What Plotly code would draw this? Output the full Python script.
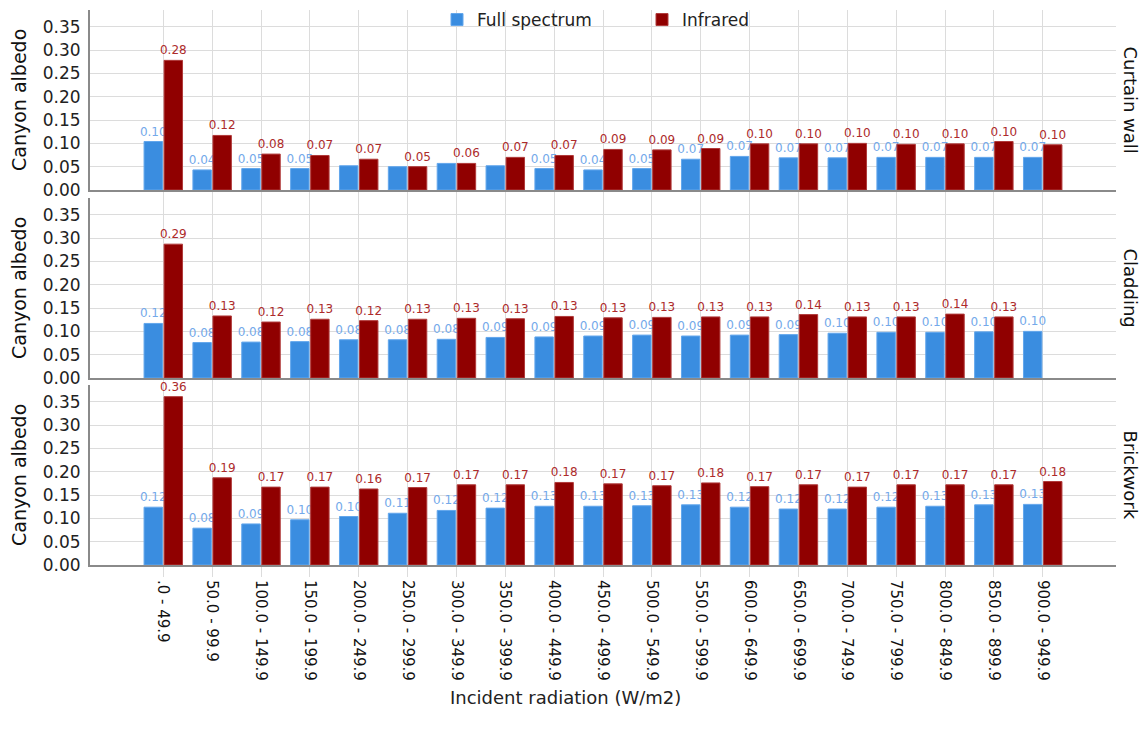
import plotly.graph_objects as go

# Incident radiation bins (W/m2)
categories = [".0 - 49.9", "50.0 - 99.9", "100.0 - 149.9", "150.0 - 199.9",
              "200.0 - 249.9", "250.0 - 299.9", "300.0 - 349.9", "350.0 - 399.9",
              "400.0 - 449.9", "450.0 - 499.9", "500.0 - 549.9", "550.0 - 599.9",
              "600.0 - 649.9", "650.0 - 699.9", "700.0 - 749.9", "750.0 - 799.9",
              "800.0 - 849.9", "850.0 - 899.9", "900.0 - 949.9"]

facades = ["Curtain wall", "Cladding", "Brickwork"]

# Canyon albedo, full spectrum
curtain_full = [0.104, 0.043, 0.046, 0.046, 0.052, 0.050, 0.057, 0.052, 0.046, 0.043,
                0.046, 0.066, 0.072, 0.069, 0.069, 0.070, 0.070, 0.070, 0.070]
cladding_full = [0.117, 0.076, 0.077, 0.078, 0.082, 0.082, 0.083, 0.087, 0.088, 0.090,
                 0.092, 0.090, 0.092, 0.093, 0.096, 0.098, 0.098, 0.099, 0.100]
brick_full = [0.124, 0.079, 0.088, 0.097, 0.104, 0.111, 0.117, 0.122, 0.126, 0.126,
              0.127, 0.129, 0.124, 0.120, 0.120, 0.124, 0.126, 0.129, 0.130]

# Canyon albedo, infrared
curtain_ir = [0.278, 0.117, 0.077, 0.074, 0.066, 0.050, 0.057, 0.070, 0.074, 0.087,
              0.086, 0.089, 0.099, 0.099, 0.100, 0.098, 0.099, 0.104, 0.097]
cladding_ir = [0.287, 0.133, 0.120, 0.126, 0.123, 0.126, 0.128, 0.127, 0.132, 0.129,
               0.130, 0.131, 0.131, 0.136, 0.131, 0.131, 0.137, 0.131, None]
brick_ir = [0.361, 0.187, 0.167, 0.167, 0.163, 0.166, 0.172, 0.172, 0.177, 0.174,
            0.170, 0.176, 0.168, 0.172, 0.167, 0.172, 0.172, 0.172, 0.179]

# value labels suppressed where they would collide
curtain_full_hidden = [4, 5, 6, 7]

full_series = [curtain_full, cladding_full, brick_full]
ir_series = [curtain_ir, cladding_ir, brick_ir]
full_hidden = [curtain_full_hidden, [], []]

FONT = "DejaVu Sans"
BLUE = "#3a8de0"
BLUE_EDGE = "#62a6ec"
BLUE_TXT = "#74a9ea"
RED = "#900000"
RED_EDGE = "#b03a3a"
RED_TXT = "#ad2b2b"
GRID = "#dcdcdc"
AXIS = "#8a8a8a"

W, H = 1146, 735
L, R, T, B = 90, 30, 0, 170
PW = W - L - R
PH = H - T - B


def px_y(y):
    """Convert a pixel row of the page to a paper fraction."""
    return (H - B - y) / PH


def px_x(x):
    return (x - L) / PW


def labels(vals, hidden=()):
    return ["" if (v is None or i in hidden) else f"{v:.2f}" for i, v in enumerate(vals)]


fig = go.Figure()

for row in range(3):
    xa = "x" if row == 0 else f"x{row + 1}"
    ya = "y" if row == 0 else f"y{row + 1}"
    fig.add_trace(go.Bar(
        x=categories, y=full_series[row], name="Full spectrum",
        legendgroup="full", showlegend=(row == 0),
        marker=dict(color=BLUE, line=dict(color=BLUE_EDGE, width=1)),
        text=labels(full_series[row], full_hidden[row]), textposition="outside",
        textfont=dict(color=BLUE_TXT, size=12, family=FONT),
        constraintext="none", cliponaxis=False, xaxis=xa, yaxis=ya,
    ))
    fig.add_trace(go.Bar(
        x=categories, y=ir_series[row], name="Infrared",
        legendgroup="ir", showlegend=(row == 0),
        marker=dict(color=RED, line=dict(color=RED_EDGE, width=1)),
        text=labels(ir_series[row]), textposition="outside",
        textfont=dict(color=RED_TXT, size=12, family=FONT),
        constraintext="none", cliponaxis=False, xaxis=xa, yaxis=ya,
    ))

# panel extents in page pixels (top, bottom)
panels_px = [(10, 190), (198, 378), (385, 565)]
domains = [[px_y(b), px_y(t)] for t, b in panels_px]

layout = dict(
    width=W, height=H,
    margin=dict(l=L, r=R, t=T, b=B),
    plot_bgcolor="white", paper_bgcolor="white",
    barmode="group", bargap=0.18, bargroupgap=0.08,
    font=dict(family=FONT, color="#222222"),
    showlegend=True,
    legend=dict(orientation="h", x=px_x(437), y=px_y(2),
                xanchor="left", yanchor="top",
                bgcolor="rgba(0,0,0,0)", font=dict(size=17, color="#222222"),
                entrywidth=160, traceorder="normal"),
)

for row in range(3):
    xkey = "xaxis" if row == 0 else f"xaxis{row + 1}"
    ykey = "yaxis" if row == 0 else f"yaxis{row + 1}"
    ya = "y" if row == 0 else f"y{row + 1}"
    layout[xkey] = dict(
        anchor=ya, domain=[0, 1], type="category", automargin=False,
        range=[-1.5, 19.5],
        showgrid=True, gridcolor=GRID, gridwidth=1,
        showline=True, linecolor=AXIS, linewidth=2,
        ticks="outside", ticklen=10, tickcolor=GRID,
        showticklabels=(row == 2), tickangle=90,
        tickfont=dict(size=15, color="#111111", family=FONT),
        matches=None if row == 0 else "x",
    )
    layout[ykey] = dict(
        anchor="x" if row == 0 else f"x{row + 1}", domain=domains[row],
        automargin=False,
        range=[0, 0.386], dtick=0.05, tick0=0, tickformat=".2f",
        showgrid=True, gridcolor=GRID, gridwidth=1, zeroline=False,
        showline=True, linecolor=AXIS, linewidth=2,
        ticks="", ticklabelstandoff=4,
        tickfont=dict(size=17, color="#222222", family=FONT),
    )

fig.update_layout(**layout)

for row, name in enumerate(facades):
    d = domains[row]
    mid = (d[0] + d[1]) / 2
    # y-axis title for each panel
    fig.add_annotation(
        text="Canyon albedo", xref="paper", yref="paper",
        x=px_x(19), y=mid, xanchor="center", yanchor="middle",
        textangle=-90, showarrow=False,
        font=dict(size=19, color="#111111", family=FONT),
    )
    # facet label on the right
    fig.add_annotation(
        text=name, xref="paper", yref="paper", x=1.0, y=mid,
        xanchor="left", yanchor="middle", xshift=2, textangle=90, showarrow=False,
        font=dict(size=18, color="#111111", family=FONT),
    )

# x-axis title
fig.add_annotation(
    text="Incident radiation (W/m2)", xref="paper", yref="paper",
    x=px_x(565), y=px_y(697), xanchor="center", yanchor="middle", showarrow=False,
    font=dict(size=18, color="#222222", family=FONT),
)

fig.write_html("out.html")
